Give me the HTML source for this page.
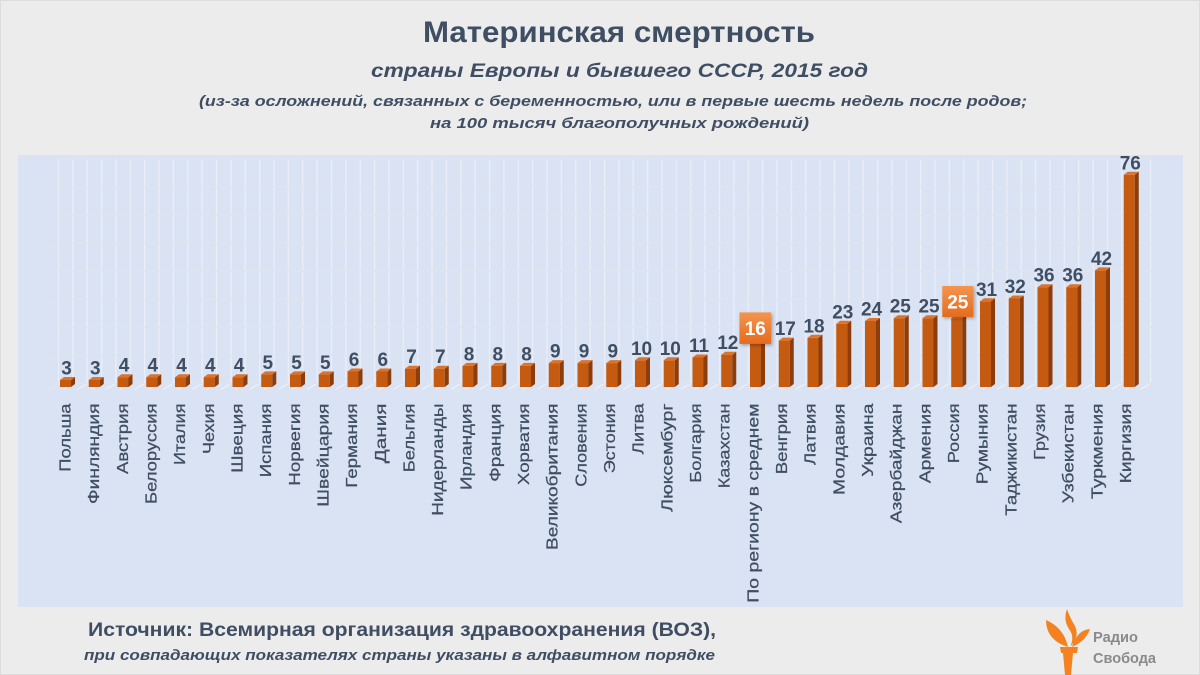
<!DOCTYPE html>
<html lang="ru">
<head>
<meta charset="utf-8">
<style>
  html,body{margin:0;padding:0;background:#ececec;}
  svg{display:block;}
  .f{fill:#c55a11;}
  .s{fill:#8c3d0b;}
  .t{fill:#d9732e;}
  .v{font-family:"Liberation Sans",Arial,sans-serif;font-weight:bold;font-size:19px;fill:#3f4e63;text-anchor:middle;}
  .c{font-family:"Liberation Sans",Arial,sans-serif;font-size:16px;fill:#3f4e63;stroke:#3f4e63;stroke-width:0.25px;}
  .ttl{font-family:"Liberation Sans",Arial,sans-serif;font-weight:bold;fill:#3f4e63;}
</style>
</head>
<body>
<svg width="1200" height="675" viewBox="0 0 1200 675" xmlns="http://www.w3.org/2000/svg">
  <defs>
    <pattern id="vg" patternUnits="userSpaceOnUse" x="57.8" y="0" width="14.37" height="675">
      <rect x="0" y="0" width="1.3" height="675" fill="#eaeef7"/>
    </pattern>
    <pattern id="fg" patternUnits="userSpaceOnUse" x="47.8" y="383.5" width="14.37" height="6">
      <line x1="0.5" y1="6" x2="10.5" y2="0" stroke="#eef1f8" stroke-width="1.2"/>
    </pattern>
    <linearGradient id="hb" x1="0" y1="0" x2="0" y2="1">
      <stop offset="0" stop-color="#f4944f"/>
      <stop offset="1" stop-color="#e56b1c"/>
    </linearGradient>
    <filter id="sh" x="-30%" y="-30%" width="160%" height="160%">
      <feDropShadow dx="1.5" dy="1.5" stdDeviation="1.5" flood-color="#000" flood-opacity="0.3"/>
    </filter>
  </defs>

  <rect x="0" y="0" width="1200" height="675" fill="#ececec"/>
  <rect x="0.5" y="0.5" width="1199" height="674" fill="none" stroke="#dcdcdc"/>

  <text class="ttl" x="423" y="42" font-size="30" textLength="392" lengthAdjust="spacingAndGlyphs">Материнская смертность</text>
  <text class="ttl" x="371" y="77" font-size="19" font-style="italic" textLength="497" lengthAdjust="spacingAndGlyphs">страны Европы и бывшего СССР, 2015 год</text>
  <text class="ttl" x="199" y="106" font-size="15" font-style="italic" textLength="828" lengthAdjust="spacingAndGlyphs">(из-за осложнений, связанных с беременностью, или в первые шесть недель после родов;</text>
  <text class="ttl" x="430" y="128" font-size="15" font-style="italic" textLength="379" lengthAdjust="spacingAndGlyphs">на 100 тысяч благополучных рождений)</text>

  <rect x="18" y="155" width="1165" height="452" fill="#dae3f3"/>

  <rect x="57.8" y="159" width="1095" height="224.5" fill="url(#vg)"/>
  <rect x="47.8" y="383.5" width="1105" height="6" fill="url(#fg)"/>
  <g stroke="#e2e3e9" stroke-width="1.3">
    <line x1="58.3" y1="159" x2="1152" y2="159"/>
    <line x1="58.3" y1="187.1" x2="1152" y2="187.1"/>
    <line x1="58.3" y1="215.1" x2="1152" y2="215.1"/>
    <line x1="58.3" y1="243.2" x2="1152" y2="243.2"/>
    <line x1="58.3" y1="271.2" x2="1152" y2="271.2"/>
    <line x1="58.3" y1="299.3" x2="1152" y2="299.3"/>
    <line x1="58.3" y1="327.4" x2="1152" y2="327.4"/>
    <line x1="58.3" y1="355.4" x2="1152" y2="355.4"/>
    <line x1="58.3" y1="383.5" x2="1152" y2="383.5"/>
    <line x1="48.3" y1="165" x2="58.3" y2="159"/>
    <line x1="48.3" y1="193.1" x2="58.3" y2="187.1"/>
    <line x1="48.3" y1="221.1" x2="58.3" y2="215.1"/>
    <line x1="48.3" y1="249.2" x2="58.3" y2="243.2"/>
    <line x1="48.3" y1="277.2" x2="58.3" y2="271.2"/>
    <line x1="48.3" y1="305.3" x2="58.3" y2="299.3"/>
    <line x1="48.3" y1="333.4" x2="58.3" y2="327.4"/>
    <line x1="48.3" y1="361.4" x2="58.3" y2="355.4"/>
    <line x1="48.3" y1="389.5" x2="58.3" y2="383.5"/>
  </g>

  <g transform="translate(60,0)"><rect class="f" x="0" y="380" width="11" height="7"/><polygon class="s" points="11,380 15,377 15,384 11,387"/><polygon class="t" points="0,380 11,380 15,377 4,377"/><text class="v" x="6.5" y="374.5">3</text></g>
  <g transform="translate(88.75,0)"><rect class="f" x="0" y="380" width="11" height="7"/><polygon class="s" points="11,380 15,377 15,384 11,387"/><polygon class="t" points="0,380 11,380 15,377 4,377"/><text class="v" x="6.5" y="374.5">3</text></g>
  <g transform="translate(117.5,0)"><rect class="f" x="0" y="377.2" width="11" height="9.8"/><polygon class="s" points="11,377.2 15,374.2 15,384 11,387"/><polygon class="t" points="0,377.2 11,377.2 15,374.2 4,374.2"/><text class="v" x="6.5" y="371.7">4</text></g>
  <g transform="translate(146.25,0)"><rect class="f" x="0" y="377.2" width="11" height="9.8"/><polygon class="s" points="11,377.2 15,374.2 15,384 11,387"/><polygon class="t" points="0,377.2 11,377.2 15,374.2 4,374.2"/><text class="v" x="6.5" y="371.7">4</text></g>
  <g transform="translate(175,0)"><rect class="f" x="0" y="377.2" width="11" height="9.8"/><polygon class="s" points="11,377.2 15,374.2 15,384 11,387"/><polygon class="t" points="0,377.2 11,377.2 15,374.2 4,374.2"/><text class="v" x="6.5" y="371.7">4</text></g>
  <g transform="translate(203.75,0)"><rect class="f" x="0" y="377.2" width="11" height="9.8"/><polygon class="s" points="11,377.2 15,374.2 15,384 11,387"/><polygon class="t" points="0,377.2 11,377.2 15,374.2 4,374.2"/><text class="v" x="6.5" y="371.7">4</text></g>
  <g transform="translate(232.5,0)"><rect class="f" x="0" y="377.2" width="11" height="9.8"/><polygon class="s" points="11,377.2 15,374.2 15,384 11,387"/><polygon class="t" points="0,377.2 11,377.2 15,374.2 4,374.2"/><text class="v" x="6.5" y="371.7">4</text></g>
  <g transform="translate(261.25,0)"><rect class="f" x="0" y="374.4" width="11" height="12.6"/><polygon class="s" points="11,374.4 15,371.4 15,384 11,387"/><polygon class="t" points="0,374.4 11,374.4 15,371.4 4,371.4"/><text class="v" x="6.5" y="368.9">5</text></g>
  <g transform="translate(290,0)"><rect class="f" x="0" y="374.4" width="11" height="12.6"/><polygon class="s" points="11,374.4 15,371.4 15,384 11,387"/><polygon class="t" points="0,374.4 11,374.4 15,371.4 4,371.4"/><text class="v" x="6.5" y="368.9">5</text></g>
  <g transform="translate(318.75,0)"><rect class="f" x="0" y="374.4" width="11" height="12.6"/><polygon class="s" points="11,374.4 15,371.4 15,384 11,387"/><polygon class="t" points="0,374.4 11,374.4 15,371.4 4,371.4"/><text class="v" x="6.5" y="368.9">5</text></g>
  <g transform="translate(347.5,0)"><rect class="f" x="0" y="371.5" width="11" height="15.5"/><polygon class="s" points="11,371.5 15,368.5 15,384 11,387"/><polygon class="t" points="0,371.5 11,371.5 15,368.5 4,368.5"/><text class="v" x="6.5" y="366">6</text></g>
  <g transform="translate(376.25,0)"><rect class="f" x="0" y="371.5" width="11" height="15.5"/><polygon class="s" points="11,371.5 15,368.5 15,384 11,387"/><polygon class="t" points="0,371.5 11,371.5 15,368.5 4,368.5"/><text class="v" x="6.5" y="366">6</text></g>
  <g transform="translate(405,0)"><rect class="f" x="0" y="368.7" width="11" height="18.3"/><polygon class="s" points="11,368.7 15,365.7 15,384 11,387"/><polygon class="t" points="0,368.7 11,368.7 15,365.7 4,365.7"/><text class="v" x="6.5" y="363.2">7</text></g>
  <g transform="translate(433.75,0)"><rect class="f" x="0" y="368.7" width="11" height="18.3"/><polygon class="s" points="11,368.7 15,365.7 15,384 11,387"/><polygon class="t" points="0,368.7 11,368.7 15,365.7 4,365.7"/><text class="v" x="6.5" y="363.2">7</text></g>
  <g transform="translate(462.5,0)"><rect class="f" x="0" y="365.9" width="11" height="21.1"/><polygon class="s" points="11,365.9 15,362.9 15,384 11,387"/><polygon class="t" points="0,365.9 11,365.9 15,362.9 4,362.9"/><text class="v" x="6.5" y="360.4">8</text></g>
  <g transform="translate(491.25,0)"><rect class="f" x="0" y="365.9" width="11" height="21.1"/><polygon class="s" points="11,365.9 15,362.9 15,384 11,387"/><polygon class="t" points="0,365.9 11,365.9 15,362.9 4,362.9"/><text class="v" x="6.5" y="360.4">8</text></g>
  <g transform="translate(520,0)"><rect class="f" x="0" y="365.9" width="11" height="21.1"/><polygon class="s" points="11,365.9 15,362.9 15,384 11,387"/><polygon class="t" points="0,365.9 11,365.9 15,362.9 4,362.9"/><text class="v" x="6.5" y="360.4">8</text></g>
  <g transform="translate(548.75,0)"><rect class="f" x="0" y="363.1" width="11" height="23.9"/><polygon class="s" points="11,363.1 15,360.1 15,384 11,387"/><polygon class="t" points="0,363.1 11,363.1 15,360.1 4,360.1"/><text class="v" x="6.5" y="357.6">9</text></g>
  <g transform="translate(577.5,0)"><rect class="f" x="0" y="363.1" width="11" height="23.9"/><polygon class="s" points="11,363.1 15,360.1 15,384 11,387"/><polygon class="t" points="0,363.1 11,363.1 15,360.1 4,360.1"/><text class="v" x="6.5" y="357.6">9</text></g>
  <g transform="translate(606.25,0)"><rect class="f" x="0" y="363.1" width="11" height="23.9"/><polygon class="s" points="11,363.1 15,360.1 15,384 11,387"/><polygon class="t" points="0,363.1 11,363.1 15,360.1 4,360.1"/><text class="v" x="6.5" y="357.6">9</text></g>
  <g transform="translate(635,0)"><rect class="f" x="0" y="360.3" width="11" height="26.7"/><polygon class="s" points="11,360.3 15,357.3 15,384 11,387"/><polygon class="t" points="0,360.3 11,360.3 15,357.3 4,357.3"/><text class="v" x="6.5" y="354.8">10</text></g>
  <g transform="translate(663.75,0)"><rect class="f" x="0" y="360.3" width="11" height="26.7"/><polygon class="s" points="11,360.3 15,357.3 15,384 11,387"/><polygon class="t" points="0,360.3 11,360.3 15,357.3 4,357.3"/><text class="v" x="6.5" y="354.8">10</text></g>
  <g transform="translate(692.5,0)"><rect class="f" x="0" y="357.5" width="11" height="29.5"/><polygon class="s" points="11,357.5 15,354.5 15,384 11,387"/><polygon class="t" points="0,357.5 11,357.5 15,354.5 4,354.5"/><text class="v" x="6.5" y="352">11</text></g>
  <g transform="translate(721.25,0)"><rect class="f" x="0" y="354.7" width="11" height="32.3"/><polygon class="s" points="11,354.7 15,351.7 15,384 11,387"/><polygon class="t" points="0,354.7 11,354.7 15,351.7 4,351.7"/><text class="v" x="6.5" y="349.2">12</text></g>
  <g transform="translate(750,0)"><rect class="f" x="0" y="343.4" width="11" height="43.6"/><polygon class="s" points="11,343.4 15,340.4 15,384 11,387"/><polygon class="t" points="0,343.4 11,343.4 15,340.4 4,340.4"/></g>
  <g transform="translate(778.75,0)"><rect class="f" x="0" y="340.6" width="11" height="46.4"/><polygon class="s" points="11,340.6 15,337.6 15,384 11,387"/><polygon class="t" points="0,340.6 11,340.6 15,337.6 4,337.6"/><text class="v" x="6.5" y="335.1">17</text></g>
  <g transform="translate(807.5,0)"><rect class="f" x="0" y="337.8" width="11" height="49.2"/><polygon class="s" points="11,337.8 15,334.8 15,384 11,387"/><polygon class="t" points="0,337.8 11,337.8 15,334.8 4,334.8"/><text class="v" x="6.5" y="332.3">18</text></g>
  <g transform="translate(836.25,0)"><rect class="f" x="0" y="323.8" width="11" height="63.2"/><polygon class="s" points="11,323.8 15,320.8 15,384 11,387"/><polygon class="t" points="0,323.8 11,323.8 15,320.8 4,320.8"/><text class="v" x="6.5" y="318.3">23</text></g>
  <g transform="translate(865,0)"><rect class="f" x="0" y="321" width="11" height="66"/><polygon class="s" points="11,321 15,318 15,384 11,387"/><polygon class="t" points="0,321 11,321 15,318 4,318"/><text class="v" x="6.5" y="315.5">24</text></g>
  <g transform="translate(893.75,0)"><rect class="f" x="0" y="318.2" width="11" height="68.8"/><polygon class="s" points="11,318.2 15,315.2 15,384 11,387"/><polygon class="t" points="0,318.2 11,318.2 15,315.2 4,315.2"/><text class="v" x="6.5" y="312.7">25</text></g>
  <g transform="translate(922.5,0)"><rect class="f" x="0" y="318.2" width="11" height="68.8"/><polygon class="s" points="11,318.2 15,315.2 15,384 11,387"/><polygon class="t" points="0,318.2 11,318.2 15,315.2 4,315.2"/><text class="v" x="6.5" y="312.7">25</text></g>
  <g transform="translate(951.25,0)"><rect class="f" x="0" y="318.2" width="11" height="68.8"/><polygon class="s" points="11,318.2 15,315.2 15,384 11,387"/><polygon class="t" points="0,318.2 11,318.2 15,315.2 4,315.2"/></g>
  <g transform="translate(980,0)"><rect class="f" x="0" y="301.3" width="11" height="85.7"/><polygon class="s" points="11,301.3 15,298.3 15,384 11,387"/><polygon class="t" points="0,301.3 11,301.3 15,298.3 4,298.3"/><text class="v" x="6.5" y="295.8">31</text></g>
  <g transform="translate(1008.75,0)"><rect class="f" x="0" y="298.5" width="11" height="88.5"/><polygon class="s" points="11,298.5 15,295.5 15,384 11,387"/><polygon class="t" points="0,298.5 11,298.5 15,295.5 4,295.5"/><text class="v" x="6.5" y="293">32</text></g>
  <g transform="translate(1037.5,0)"><rect class="f" x="0" y="287.2" width="11" height="99.8"/><polygon class="s" points="11,287.2 15,284.2 15,384 11,387"/><polygon class="t" points="0,287.2 11,287.2 15,284.2 4,284.2"/><text class="v" x="6.5" y="281.7">36</text></g>
  <g transform="translate(1066.25,0)"><rect class="f" x="0" y="287.2" width="11" height="99.8"/><polygon class="s" points="11,287.2 15,284.2 15,384 11,387"/><polygon class="t" points="0,287.2 11,287.2 15,284.2 4,284.2"/><text class="v" x="6.5" y="281.7">36</text></g>
  <g transform="translate(1095,0)"><rect class="f" x="0" y="270.4" width="11" height="116.6"/><polygon class="s" points="11,270.4 15,267.4 15,384 11,387"/><polygon class="t" points="0,270.4 11,270.4 15,267.4 4,267.4"/><text class="v" x="6.5" y="264.9">42</text></g>
  <g transform="translate(1123.75,0)"><rect class="f" x="0" y="174.8" width="11" height="212.2"/><polygon class="s" points="11,174.8 15,171.8 15,384 11,387"/><polygon class="t" points="0,174.8 11,174.8 15,171.8 4,171.8"/><text class="v" x="6.5" y="169.3">76</text></g>

  <g filter="url(#sh)">
    <rect x="739.5" y="312.4" width="31.5" height="31.5" fill="url(#hb)"/>
    <rect x="942.3" y="286" width="31" height="31" fill="url(#hb)"/>
  </g>
  <text x="755.3" y="335" font-family="Liberation Sans, Arial, sans-serif" font-weight="bold" font-size="19" fill="#ffffff" text-anchor="middle">16</text>
  <text x="957.8" y="308.4" font-family="Liberation Sans, Arial, sans-serif" font-weight="bold" font-size="19" fill="#ffffff" text-anchor="middle">25</text>

  <text class="c" transform="translate(70.5,471.7) rotate(-90)" textLength="68.2" lengthAdjust="spacingAndGlyphs">Польша</text>
  <text class="c" transform="translate(99.16,504) rotate(-90)" textLength="100.5" lengthAdjust="spacingAndGlyphs">Финляндия</text>
  <text class="c" transform="translate(127.82,474) rotate(-90)" textLength="70.5" lengthAdjust="spacingAndGlyphs">Австрия</text>
  <text class="c" transform="translate(156.48,504) rotate(-90)" textLength="100.5" lengthAdjust="spacingAndGlyphs">Белоруссия</text>
  <text class="c" transform="translate(185.14,465) rotate(-90)" textLength="61.5" lengthAdjust="spacingAndGlyphs">Италия</text>
  <text class="c" transform="translate(213.8,454) rotate(-90)" textLength="50.5" lengthAdjust="spacingAndGlyphs">Чехия</text>
  <text class="c" transform="translate(242.46,472.7) rotate(-90)" textLength="69.2" lengthAdjust="spacingAndGlyphs">Швеция</text>
  <text class="c" transform="translate(271.12,477.3) rotate(-90)" textLength="73.8" lengthAdjust="spacingAndGlyphs">Испания</text>
  <text class="c" transform="translate(299.78,485.7) rotate(-90)" textLength="82.2" lengthAdjust="spacingAndGlyphs">Норвегия</text>
  <text class="c" transform="translate(328.44,506.7) rotate(-90)" textLength="103.2" lengthAdjust="spacingAndGlyphs">Швейцария</text>
  <text class="c" transform="translate(357.1,487.7) rotate(-90)" textLength="84.2" lengthAdjust="spacingAndGlyphs">Германия</text>
  <text class="c" transform="translate(385.76,463.3) rotate(-90)" textLength="59.8" lengthAdjust="spacingAndGlyphs">Дания</text>
  <text class="c" transform="translate(414.42,472.3) rotate(-90)" textLength="68.8" lengthAdjust="spacingAndGlyphs">Бельгия</text>
  <text class="c" transform="translate(443.08,515.7) rotate(-90)" textLength="112.2" lengthAdjust="spacingAndGlyphs">Нидерланды</text>
  <text class="c" transform="translate(471.74,490) rotate(-90)" textLength="86.5" lengthAdjust="spacingAndGlyphs">Ирландия</text>
  <text class="c" transform="translate(500.4,481.7) rotate(-90)" textLength="78.2" lengthAdjust="spacingAndGlyphs">Франция</text>
  <text class="c" transform="translate(529.06,485) rotate(-90)" textLength="81.5" lengthAdjust="spacingAndGlyphs">Хорватия</text>
  <text class="c" transform="translate(557.72,550) rotate(-90)" textLength="146.5" lengthAdjust="spacingAndGlyphs">Великобритания</text>
  <text class="c" transform="translate(586.38,486.7) rotate(-90)" textLength="83.2" lengthAdjust="spacingAndGlyphs">Словения</text>
  <text class="c" transform="translate(615.04,473.3) rotate(-90)" textLength="69.8" lengthAdjust="spacingAndGlyphs">Эстония</text>
  <text class="c" transform="translate(643.7,454.3) rotate(-90)" textLength="50.8" lengthAdjust="spacingAndGlyphs">Литва</text>
  <text class="c" transform="translate(672.36,511.7) rotate(-90)" textLength="108.2" lengthAdjust="spacingAndGlyphs">Люксембург</text>
  <text class="c" transform="translate(701.02,482.7) rotate(-90)" textLength="79.2" lengthAdjust="spacingAndGlyphs">Болгария</text>
  <text class="c" transform="translate(729.68,488.3) rotate(-90)" textLength="84.8" lengthAdjust="spacingAndGlyphs">Казахстан</text>
  <text class="c" transform="translate(758.34,602.7) rotate(-90)" textLength="199.2" lengthAdjust="spacingAndGlyphs">По региону в среднем</text>
  <text class="c" transform="translate(787,474.3) rotate(-90)" textLength="70.8" lengthAdjust="spacingAndGlyphs">Венгрия</text>
  <text class="c" transform="translate(815.66,465) rotate(-90)" textLength="61.5" lengthAdjust="spacingAndGlyphs">Латвия</text>
  <text class="c" transform="translate(844.32,495) rotate(-90)" textLength="91.5" lengthAdjust="spacingAndGlyphs">Молдавия</text>
  <text class="c" transform="translate(872.98,476.7) rotate(-90)" textLength="73.2" lengthAdjust="spacingAndGlyphs">Украина</text>
  <text class="c" transform="translate(901.64,523.3) rotate(-90)" textLength="119.8" lengthAdjust="spacingAndGlyphs">Азербайджан</text>
  <text class="c" transform="translate(930.3,483.3) rotate(-90)" textLength="79.8" lengthAdjust="spacingAndGlyphs">Армения</text>
  <text class="c" transform="translate(958.96,463.3) rotate(-90)" textLength="59.8" lengthAdjust="spacingAndGlyphs">Россия</text>
  <text class="c" transform="translate(987.62,484.3) rotate(-90)" textLength="80.8" lengthAdjust="spacingAndGlyphs">Румыния</text>
  <text class="c" transform="translate(1016.28,515.7) rotate(-90)" textLength="112.2" lengthAdjust="spacingAndGlyphs">Таджикистан</text>
  <text class="c" transform="translate(1044.94,460) rotate(-90)" textLength="56.5" lengthAdjust="spacingAndGlyphs">Грузия</text>
  <text class="c" transform="translate(1073.6,503.3) rotate(-90)" textLength="99.8" lengthAdjust="spacingAndGlyphs">Узбекистан</text>
  <text class="c" transform="translate(1102.26,499) rotate(-90)" textLength="95.5" lengthAdjust="spacingAndGlyphs">Туркмения</text>
  <text class="c" transform="translate(1130.92,483.3) rotate(-90)" textLength="79.8" lengthAdjust="spacingAndGlyphs">Киргизия</text>

  <text class="ttl" x="88" y="636" font-size="19" textLength="628" lengthAdjust="spacingAndGlyphs">Источник: Всемирная организация здравоохранения (ВОЗ),</text>
  <text class="ttl" x="84" y="660" font-size="14.5" font-style="italic" textLength="631" lengthAdjust="spacingAndGlyphs">при совпадающих показателях страны указаны в алфавитном порядке</text>

  <g fill="#f58220">
    <path d="M1046,620 Q1046,640 1068,647 Q1064,628 1046,620 Z"/>
    <path d="M1067,609 Q1063,620 1069,629 Q1075,637 1070,647 Q1080,637 1075,626 Q1070,618 1067,609 Z"/>
    <path d="M1090,629 Q1077,630 1072,647 Q1086,641 1090,629 Z"/>
    <polygon points="1060,647 1078,647 1077,653 1073,653 1071,675 1065,675 1063,653 1061,653"/>
  </g>
  <text x="1093" y="642" font-family="Liberation Sans, Arial, sans-serif" font-weight="bold" font-size="15" fill="#8a8a8a" textLength="45" lengthAdjust="spacingAndGlyphs">Радио</text>
  <text x="1093" y="663" font-family="Liberation Sans, Arial, sans-serif" font-weight="bold" font-size="15" fill="#8a8a8a" textLength="63" lengthAdjust="spacingAndGlyphs">Свобода</text>
</svg>
</body>
</html>
